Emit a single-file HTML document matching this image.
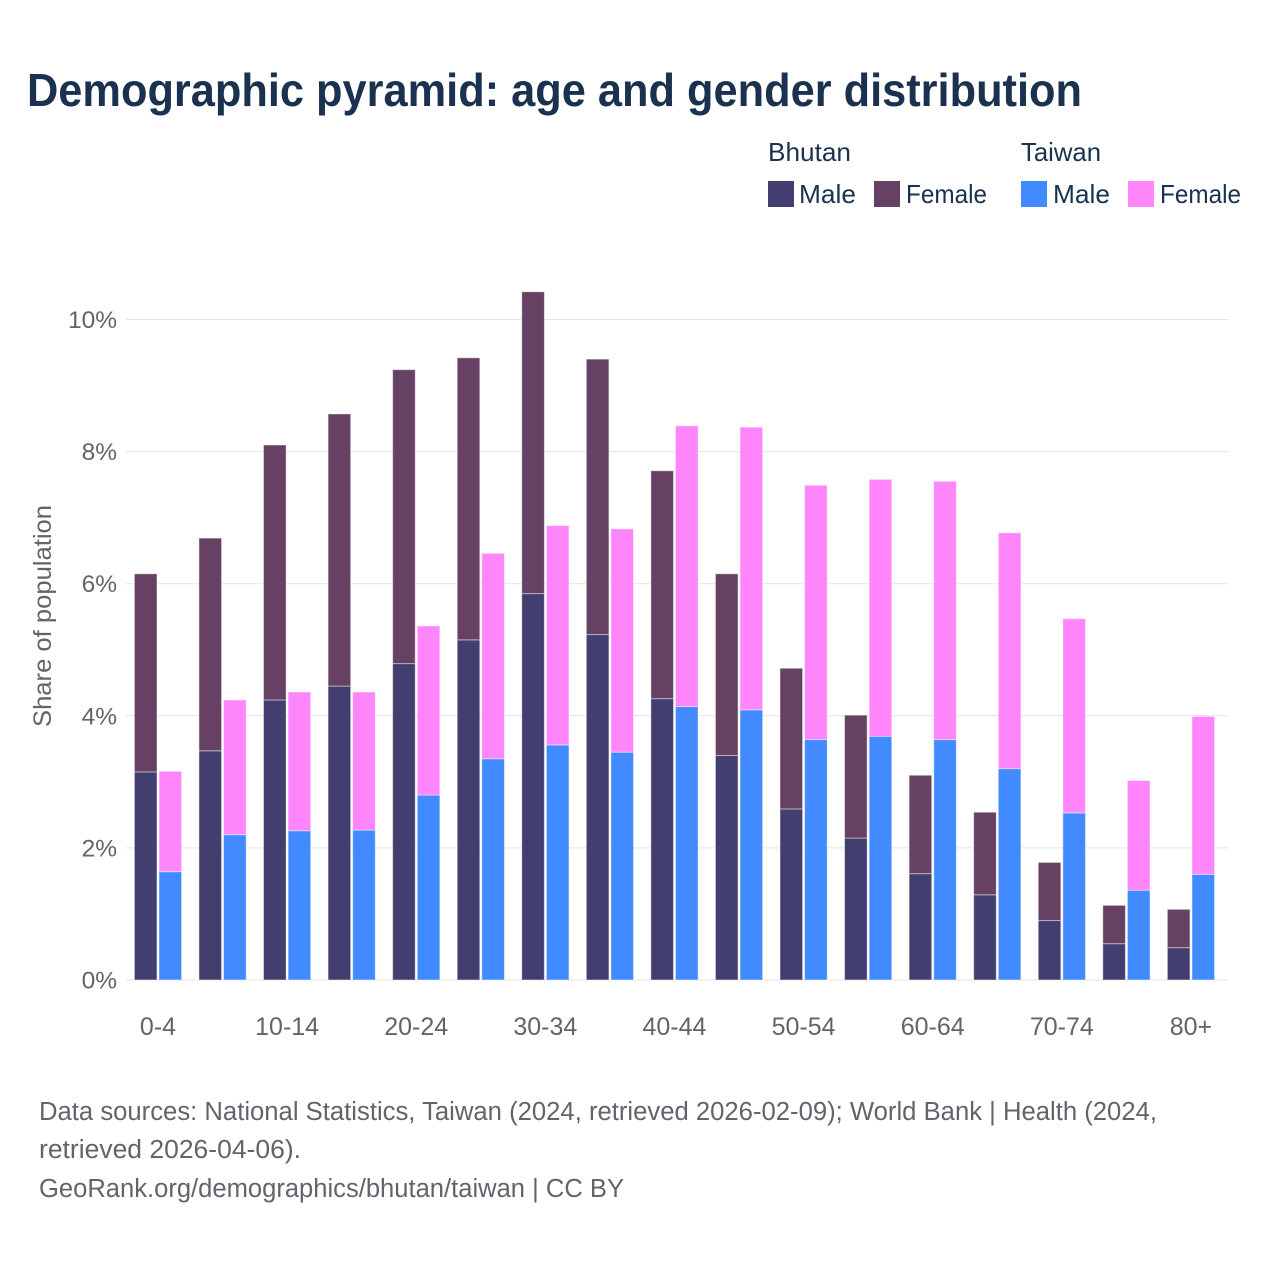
<!DOCTYPE html>
<html lang="en">
<head>
<meta charset="utf-8">
<title>Demographic pyramid: age and gender distribution</title>
<style>
html,body{margin:0;padding:0;background:#fff;}
svg{display:block;}
text{font-family:"Liberation Sans",sans-serif;}
</style>
</head>
<body>
<svg id="chart" width="1280" height="1280" viewBox="0 0 1280 1280" xmlns="http://www.w3.org/2000/svg">
  <rect x="0" y="0" width="1280" height="1280" fill="#ffffff"/>
  <text x="27" y="106" font-size="46" font-weight="700" fill="#1a3150" textLength="1055" lengthAdjust="spacingAndGlyphs">Demographic pyramid: age and gender distribution</text>

  <g fill="#1a3150" font-size="26">
    <text x="768" y="161" textLength="83" lengthAdjust="spacingAndGlyphs">Bhutan</text>
    <text x="1021" y="161" textLength="80" lengthAdjust="spacingAndGlyphs">Taiwan</text>
    <rect x="768" y="181" width="26" height="26" fill="#423e70"/>
    <text x="799" y="203" textLength="57" lengthAdjust="spacingAndGlyphs">Male</text>
    <rect x="874" y="181" width="26" height="26" fill="#674163"/>
    <text x="906" y="203" textLength="81" lengthAdjust="spacingAndGlyphs">Female</text>
    <rect x="1021" y="181" width="26" height="26" fill="#418aff"/>
    <text x="1053" y="203" textLength="57" lengthAdjust="spacingAndGlyphs">Male</text>
    <rect x="1128" y="181" width="26" height="26" fill="#ff85fa"/>
    <text x="1160" y="203" textLength="81" lengthAdjust="spacingAndGlyphs">Female</text>
  </g>

  <g id="grid"></g>
  <g id="bars"></g>
  <g id="yticks"></g>
  <g id="xticks"></g>

  <text transform="translate(51,616) rotate(-90)" text-anchor="middle" font-size="25" fill="#63636b" textLength="222" lengthAdjust="spacingAndGlyphs">Share of population</text>

  <g font-size="25.5" fill="#63636b">
    <text x="39" y="1120" textLength="1118" lengthAdjust="spacingAndGlyphs">Data sources: National Statistics, Taiwan (2024, retrieved 2026-02-09); World Bank | Health (2024,</text>
    <text x="39" y="1158" textLength="262" lengthAdjust="spacingAndGlyphs">retrieved 2026-04-06).</text>
    <text x="39" y="1197" textLength="585" lengthAdjust="spacingAndGlyphs">GeoRank.org/demographics/bhutan/taiwan | CC BY</text>
  </g>
</svg>
<script>
const categories = ["0-4","5-9","10-14","15-19","20-24","25-29","30-34","35-39","40-44","45-49","50-54","55-59","60-64","65-69","70-74","75-79","80+"];
const bhutanMale = [3.15,3.47,4.24,4.45,4.79,5.15,5.85,5.23,4.26,3.40,2.59,2.15,1.61,1.29,0.90,0.55,0.49];
const bhutanFemale = [3.00,3.22,3.86,4.12,4.45,4.27,4.57,4.17,3.45,2.75,2.13,1.86,1.49,1.25,0.88,0.58,0.58];
const taiwanMale = [1.64,2.20,2.26,2.27,2.80,3.35,3.56,3.45,4.14,4.09,3.64,3.69,3.64,3.20,2.53,1.36,1.60];
const taiwanFemale = [1.52,2.04,2.10,2.09,2.56,3.11,3.32,3.38,4.25,4.28,3.85,3.89,3.91,3.57,2.94,1.66,2.39];
const yTickValues = [0,2,4,6,8,10];
const yTickLabels = ["0%","2%","4%","6%","8%","10%"];

const NS = "http://www.w3.org/2000/svg";
const plotLeft = 126, plotRight = 1228, baseY = 980, pxPerUnit = 66.05;
const firstCenter = 158, step = 64.56, barW = 22.6, gap = 2;
const yScale = v => baseY - v * pxPerUnit;
const xScale = i => firstCenter + i * step;

function make(tag, attrs, parent) {
  const el = document.createElementNS(NS, tag);
  for (const k in attrs) el.setAttribute(k, attrs[k]);
  parent.appendChild(el);
  return el;
}

const gridG = document.getElementById("grid");
const yG = document.getElementById("yticks");
yTickValues.forEach((v, i) => {
  const line = make("line", {x1: plotLeft, x2: plotRight, y1: yScale(v), y2: yScale(v), stroke: "#e3e3ea", "stroke-width": 1}, gridG);
  
  
  const t = make("text", {x: 117, y: yScale(v) + 8.5, "text-anchor": "end", "font-size": 24.5, fill: "#63636b"}, yG);
  
  
  t.textContent = yTickLabels[i];
});

const xG = document.getElementById("xticks");
categories.forEach((c, i) => {
  if (i % 2 !== 0) return;
  const t = make("text", {x: xScale(i), y: 1035, "text-anchor": "middle", "font-size": 25, fill: "#63636b"}, xG);
  
  
  t.textContent = c;
});

const barsG = document.getElementById("bars");
function segment(x, lo, hi, fill) {
  const r = make("rect", {
    x: x, y: yScale(hi), width: barW, height: yScale(lo) - yScale(hi),
    fill: fill, stroke: "#ffffff", "stroke-opacity": 0.45, "stroke-width": 1
  }, barsG);
  
  
}
categories.forEach((c, i) => {
  const cx = xScale(i);
  const lx = cx - gap / 2 - barW;
  const rx = cx + gap / 2;
  segment(lx, 0, bhutanMale[i], "#423e70");
  segment(lx, bhutanMale[i], bhutanMale[i] + bhutanFemale[i], "#674163");
  segment(rx, 0, taiwanMale[i], "#418aff");
  segment(rx, taiwanMale[i], taiwanMale[i] + taiwanFemale[i], "#ff85fa");
});
</script>
</body>
</html>
